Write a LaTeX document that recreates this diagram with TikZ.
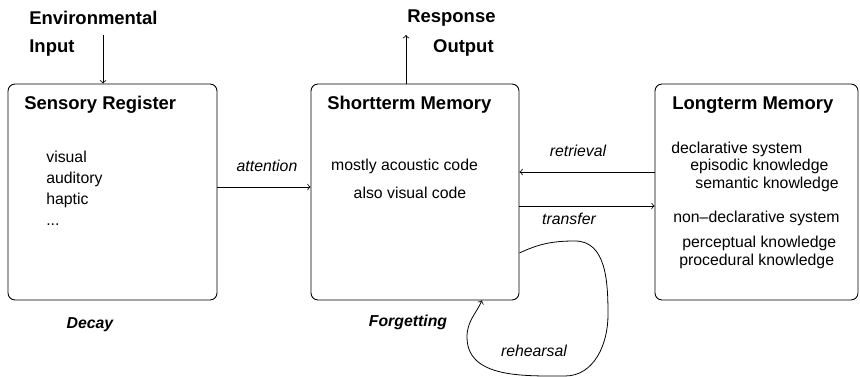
\documentclass[tikz,border=0pt]{standalone}
\usepackage{fontspec}
\setmainfont{Liberation Sans}
\usetikzlibrary{arrows,positioning}

\tikzset{
	memory/.style={draw, line width=0.5pt, rounded corners=4pt, minimum width=#1, minimum height=4.32cm},
	headline/.style={anchor=west, inner sep=0pt, font=\fontsize{10.5}{12}\selectfont\bfseries},
	body/.style={anchor=west, inner sep=0pt, font=\fontsize{9}{12}\selectfont},
	tag/.style={inner sep=0pt, font=\fontsize{9}{11}\selectfont\itshape},
	fate/.style={inner sep=0pt, font=\fontsize{9}{11}\selectfont\bfseries\itshape},
	flow/.style={->, line width=0.45pt},
}

\begin{document}
\begin{tikzpicture}

		\useasboundingbox (0,0) rectangle (17.2,-7.54);

		% stores
		\node (sensory) at (2.25,-3.84) [memory=4.18cm] {};
		\node (short) at (8.3,-3.84) [memory=4.16cm] {};
		\node (long) at (15.13,-3.84) [memory=4.06cm] {};

		\node (sensoryhead) at (0.48,-2.1) [headline] {Sensory Register};
		\node (shorthead) at (6.54,-2.1) [headline] {Shortterm Memory};
		\node (longhead) at (13.44,-2.1) [headline] {Longterm Memory};

		\node (modes) at (0.92,-3.77) [body, align=left] {visual\\auditory\\haptic\\...};

		\node (acoustic) at (8.09,-3.32) [body, anchor=center] {mostly acoustic code};
		\node (visualcode) at (8.2,-3.86) [body, anchor=center] {also visual code};

		\node (decl) at (13.42,-2.98) [body] {declarative system};
		\node (episodic) at (13.8,-3.32) [body] {episodic knowledge};
		\node (semantic) at (13.9,-3.68) [body] {semantic knowledge};
		\node (nondecl) at (13.46,-4.36) [body] {non--declarative system};
		\node (perceptual) at (13.64,-4.86) [body] {perceptual knowledge};
		\node (procedural) at (13.58,-5.22) [body] {procedural knowledge};

		% in and out
		\node (envtext) at (0.58,-0.36) [headline] {Environmental};
		\node (inputtext) at (0.58,-0.96) [headline] {Input};
		\coordinate (envin) at (2.06,-0.7);
		\draw[flow] (envin) -- (envin |- sensory.north);

		\node (resptext) at (8.14,-0.36) [headline] {Response};
		\node (outtext) at (9.88,-0.96) [headline, anchor=east] {Output};
		\coordinate (respout) at (8.12,-0.7);
		\draw[flow] (respout |- short.north) -- (respout);

		% transfers between stores
		\draw[flow] ([yshift=0.1cm]sensory.east) -- ([yshift=0.1cm]short.west);
		\node (attention) at (5.34,-3.32) [tag] {attention};

		\draw[flow] ([yshift=0.4cm]long.west) -- ([yshift=0.4cm]short.east);
		\node (retrieval) at (11.56,-3.02) [tag] {retrieval};

		\draw[flow] ([yshift=-0.28cm]short.east) -- ([yshift=-0.28cm]long.west);
		\node (transfer) at (11.38,-4.38) [tag] {transfer};

		\draw[flow] ([yshift=-1.22cm]short.east) to[out=25,in=180] (11.5,-4.82) to[out=0,in=90] (12.16,-6.3) to[out=-90,in=0] (11.3,-7.52) to[out=180,in=-90] (9.34,-6.74) to[out=90,in=-115] ([xshift=1.34cm]short.south);
		\node (rehearsal) at (10.68,-7.02) [tag] {rehearsal};

		\node (decay) at (1.8,-6.5) [fate] {Decay};
		\node (forgetting) at (8.16,-6.44) [fate] {Forgetting};

\end{tikzpicture}
\end{document}
